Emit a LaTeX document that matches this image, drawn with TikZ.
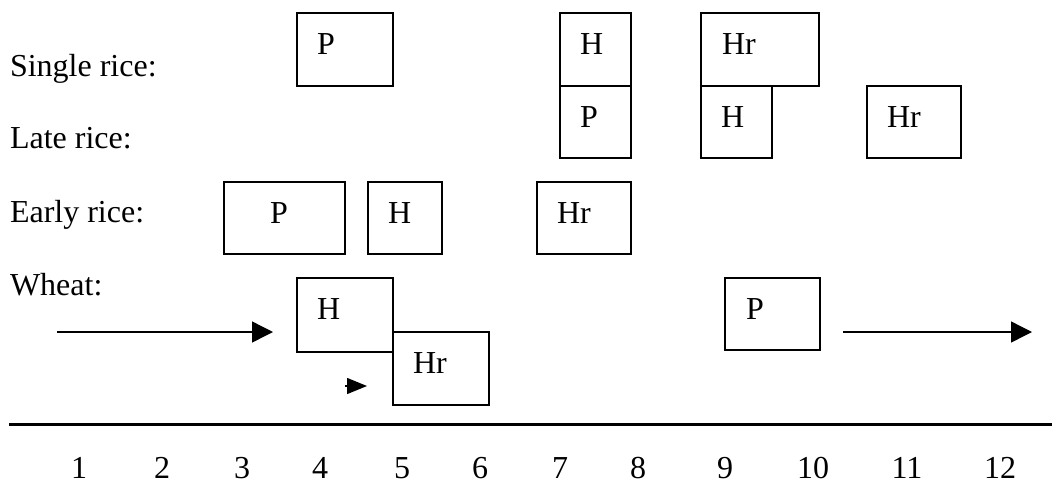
\documentclass[tikz,border=0pt]{standalone}
\usepackage{fontspec}
\setmainfont{Liberation Serif}
\usetikzlibrary{arrows.meta,calc}

\tikzset{
  txt/.style={inner sep=0pt, outer sep=0pt, font=\fontsize{32}{38}\selectfont},
  stagebox/.style={draw, line width=2pt, anchor=north west, inner sep=0pt, outer sep=0pt},
  tag/.style={txt, anchor=base west},
  rowname/.style={txt, anchor=base west},
  month/.style={txt, anchor=base},
  flow/.style={line width=1.4pt, -{Triangle[length=21pt,width=21pt]}},
  shortflow/.style={line width=1.4pt, -{Triangle[length=20pt,width=16pt]}},
  axis/.style={line width=3pt}
}

% \stage{name}{left}{top}{right}{bottom}{label offset}{label}
\newcommand\stage[7]{%
  \node[stagebox, minimum width={#4-#2}, minimum height={#5-#3}] (#1) at (#2,#3) {};
  \node[tag] (#1-t) at ($(#1.north west)+(#6,41)$) {#7};
}

\begin{document}
\begin{tikzpicture}[x=1pt, y=-1pt]
  \useasboundingbox (0,0) rectangle (1052,483);

  % crop names
  \node[rowname] (single) at (10,76)  {Single rice:};
  \node[rowname] (late)   at (10,148) {Late rice:};
  \node[rowname] (early)  at (10,222) {Early rice:};
  \node[rowname] (wheat)  at (10,295) {Wheat:};

  % single rice
  \stage{sP}{297}{13}{393}{86}{20}{P}
  \stage{sH}{560}{13}{631}{86}{20}{H}
  \stage{sHr}{701}{13}{819}{86}{21}{Hr}

  % late rice
  \stage{lP}{560}{86}{631}{158}{20}{P}
  \stage{lH}{701}{86}{772}{158}{20}{H}
  \stage{lHr}{867}{86}{961}{158}{20}{Hr}

  % early rice
  \stage{eP}{224}{182}{345}{254}{46}{P}
  \stage{eH}{368}{182}{442}{254}{20}{H}
  \stage{eHr}{537}{182}{631}{254}{20}{Hr}

  % wheat
  \stage{wH}{297}{278}{393}{352}{20}{H}
  \stage{wHr}{393}{332}{489}{405}{20}{Hr}
  \stage{wP}{725}{278}{820}{350}{21}{P}

  % wheat carried over the year end
  \coordinate (in0) at (57,332);
  \coordinate (in1) at (273,332);
  \draw[flow] (in0) -- (in1);
  \coordinate (sh0) at (345,386);
  \coordinate (sh1) at (367,386);
  \draw[shortflow] (sh0) -- (sh1);
  \coordinate (out0) at (843,332);
  \coordinate (out1) at (1032,332);
  \draw[flow] (out0) -- (out1);

  % month axis
  \coordinate (ax0) at (9,424);
  \coordinate (ax1) at (1052,424);
  \draw[axis] (ax0) -- (ax1);
  \foreach \m/\x in {1/79,2/162,3/242,4/320,5/402,6/480,7/560,8/638,9/725,10/813,11/907,12/1000}
    \node[month] (m\m) at (\x,478) {\m};
\end{tikzpicture}
\end{document}
